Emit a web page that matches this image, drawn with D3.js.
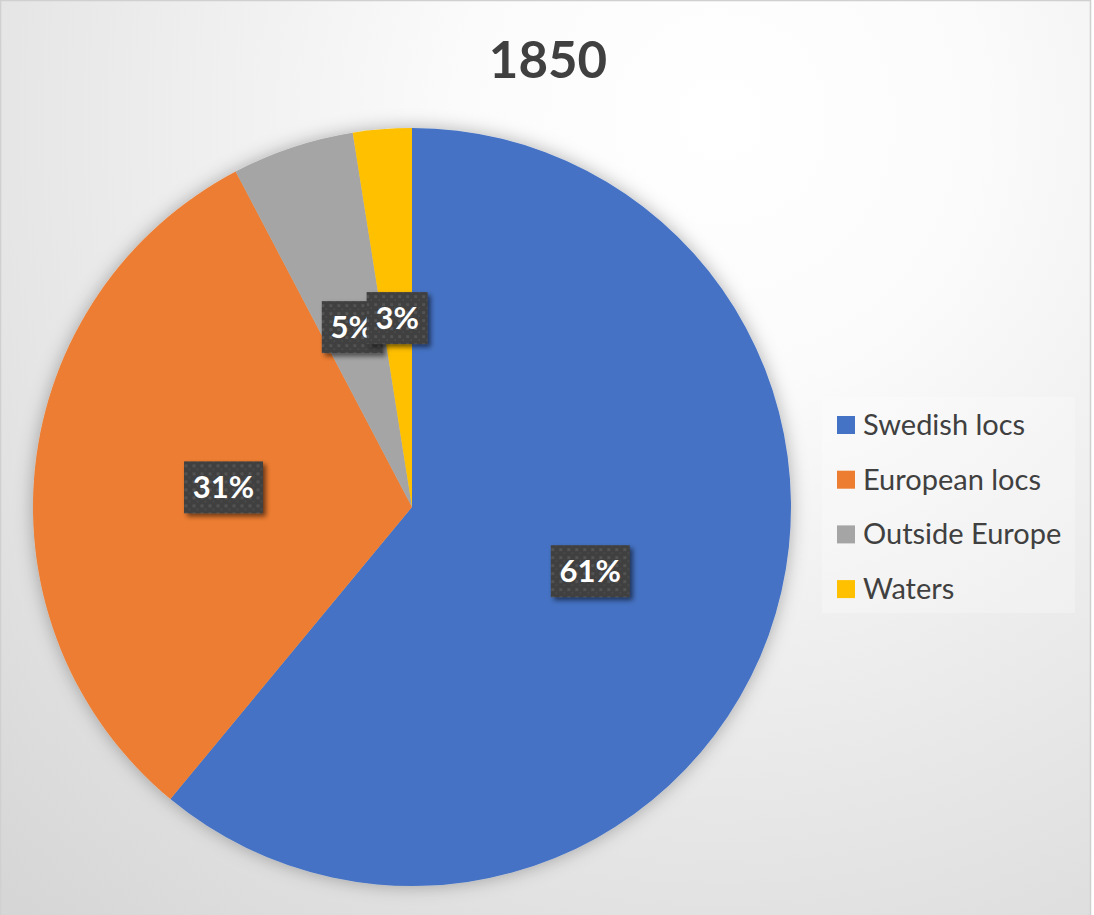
<!DOCTYPE html>
<html>
<head>
<meta charset="utf-8">
<script src="https://cdn.jsdelivr.net/npm/d3@7"></script>
<style>
  html, body { margin: 0; padding: 0; background: #fff; }
  svg { display: block; font-family: Lato, "Open Sans", sans-serif; }
</style>
</head>
<body>
<div id="chart"></div>
<script>
const WIDTH = 1094
const HEIGHT = 915

// data (shares in percent)
const categories = ["Swedish locs", "European locs", "Outside Europe", "Waters"]
const shares = [61.0, 31.3, 5.2, 2.5]
const colors = ["#4472C4", "#ED7D31", "#A5A5A5", "#FFC000"]
const title = "1850"

const CENTER = { X: 412, Y: 507 }
const RADIUS = 379

const svg = d3.select("#chart")
    .append("svg")
    .attr("width", WIDTH)
    .attr("height", HEIGHT)

const defs = svg.append("defs")

// background gradient, white top right -> grey bottom left
const bg = defs.append("radialGradient")
    .attr("id", "bg")
    .attr("gradientUnits", "userSpaceOnUse")
    .attr("cx", 720).attr("cy", 120).attr("r", 1050)
bg.append("stop").attr("offset", "0%").attr("stop-color", "#ffffff")
bg.append("stop").attr("offset", "25%").attr("stop-color", "#fbfbfb")
bg.append("stop").attr("offset", "100%").attr("stop-color", "#d6d6d6")

const pieShadow = defs.append("filter").attr("id", "pieShadow")
    .attr("x", "-20%").attr("y", "-20%").attr("width", "140%").attr("height", "140%")
pieShadow.append("feDropShadow")
    .attr("dx", 0).attr("dy", 0).attr("stdDeviation", 9)
    .attr("flood-color", "#000").attr("flood-opacity", 0.3)

const labelShadow = defs.append("filter").attr("id", "labelShadow")
    .attr("x", "-30%").attr("y", "-30%").attr("width", "160%").attr("height", "160%")
labelShadow.append("feDropShadow")
    .attr("dx", 3).attr("dy", 3).attr("stdDeviation", 2.5)
    .attr("flood-color", "#000").attr("flood-opacity", 0.55)

// dotted dark fill of the data labels
const dots = defs.append("pattern")
    .attr("id", "dots")
    .attr("patternUnits", "userSpaceOnUse")
    .attr("width", 8).attr("height", 8)
dots.append("rect").attr("width", 8).attr("height", 8).attr("fill", "#404040")
dots.append("rect").attr("x", 1).attr("y", 1).attr("width", 3).attr("height", 3).attr("fill", "#525252")
dots.append("rect").attr("x", 5).attr("y", 5).attr("width", 2).attr("height", 2).attr("fill", "#494949")

svg.append("rect")
    .attr("x", 0.5).attr("y", 0.5)
    .attr("width", WIDTH - 4).attr("height", HEIGHT + 5)
    .attr("fill", "url(#bg)")
    .attr("stroke", "#d0d0d0")
    .attr("stroke-width", 1.5)

svg.append("text")
    .attr("x", 548)
    .attr("y", 78)
    .attr("text-anchor", "middle")
    .attr("font-size", 51)
    .attr("font-weight", "bold")
    .attr("fill", "#404040")
    .text(title)

const data = categories.map((c, i) => ({ name: c, value: shares[i], color: colors[i] }))
const total = d3.sum(shares)

const pie = d3.pie()
    .sort(null)
    .value(d => d.value)

const arc = d3.arc()
    .innerRadius(0)
    .outerRadius(RADIUS)

const labelArc = d3.arc()
    .innerRadius(RADIUS * 0.5)
    .outerRadius(RADIUS * 0.5)

const g = svg.append("g")
    .attr("transform", `translate(${CENTER.X}, ${CENTER.Y})`)

g.append("g")
    .attr("filter", "url(#pieShadow)")
    .selectAll("path")
    .data(pie(data))
    .enter().append("path")
    .attr("d", arc)
    .attr("fill", d => d.data.color)

// data labels
const labels = g.selectAll(".label")
    .data(pie(data))
    .enter().append("g")
    .attr("class", "label")
    .attr("transform", d => `translate(${labelArc.centroid(d)})`)

labels.each(function(d) {
    const lab = d3.select(this)
    const txt = Math.round(d.data.value / total * 100) + "%"
    const w = txt.length === 2 ? 61 : 79
    const h = 52
    lab.append("rect")
        .attr("x", -w / 2).attr("y", -h / 2)
        .attr("width", w).attr("height", h)
        .attr("fill", "url(#dots)")
        .attr("filter", "url(#labelShadow)")
    lab.append("text")
        .attr("text-anchor", "middle")
        .attr("y", 11)
        .attr("font-size", 31)
        .attr("font-weight", "bold")
        .attr("fill", "#ffffff")
        .text(txt)
})

// legend
const legend = svg.append("g")
    .attr("transform", "translate(822, 397)")

legend.append("rect")
    .attr("width", 253).attr("height", 216)
    .attr("fill", "#ffffff")
    .attr("opacity", 0.25)

const rows = legend.selectAll(".row")
    .data(data)
    .enter().append("g")
    .attr("class", "row")
    .attr("transform", (d, i) => `translate(15, ${28 + i * 54.7})`)

rows.append("rect")
    .attr("x", 0).attr("y", -9)
    .attr("width", 18).attr("height", 18)
    .attr("fill", d => d.color)

rows.append("text")
    .attr("x", 26)
    .attr("y", 10)
    .attr("font-size", 29)
    .attr("fill", "#404040")
    .text(d => d.name)
</script>
</body>
</html>
